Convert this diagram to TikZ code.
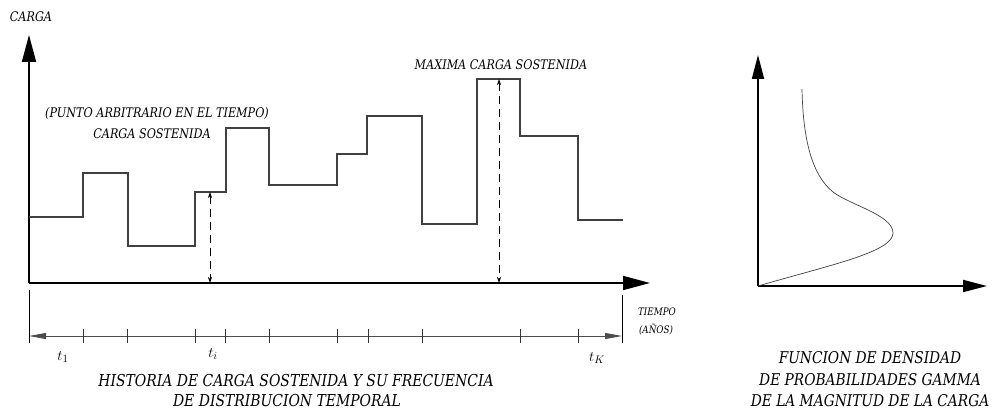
\documentclass[tikz,border=0pt]{standalone}
\usepackage{fontspec}
\setmainfont{DejaVu Serif}[FakeStretch=0.85]
\usetikzlibrary{arrows.meta}
\begin{document}
\begin{tikzpicture}[x=1pt,y=-1pt,
  lbltxt/.style={font=\fontsize{13.2}{15}\selectfont\itshape, inner sep=0pt},
  captxt/.style={font=\fontsize{16.4}{18}\selectfont\itshape, inner sep=0pt},
  rcaptxt/.style={font=\fontsize{16.2}{18}\selectfont\itshape, inner sep=0pt},
  smalltxt/.style={font=\fontsize{10.3}{11}\selectfont\itshape, inner sep=0pt},
  tlab/.style={font=\fontsize{15}{16}\selectfont, inner sep=0pt},
  axisline/.style={line width=1.8pt},
  bigarrow/.style={-{Triangle[length=27pt,width=14pt]}},
  medarrow/.style={-{Triangle[length=24pt,width=12pt]}},
  steps/.style={line width=1.1pt, draw=black!75},
  dimline/.style={line width=0.7pt, dash pattern=on 8pt off 5pt, {Stealth[length=6pt,width=4pt]}-{Stealth[length=6pt,width=4pt]}},
  extline/.style={line width=0.8pt},
  tline/.style={line width=0.8pt, draw=black!70, {Triangle[length=17pt,width=6pt]}-{Triangle[length=17pt,width=6pt]}},
  tickmark/.style={line width=0.8pt, draw=black!80}
]
\useasboundingbox (0,0) rectangle (992,411);

% ---------- left chart ----------
\coordinate (O) at (29,283);
\coordinate (Ytop) at (29,35);
\coordinate (Xend) at (650,283);
\draw[axisline,bigarrow] (O) -- (Ytop);
\draw[axisline,bigarrow] (O) -- (Xend);

\draw[steps] (29,217) -- (83,217) -- (83,173) -- (128,173) -- (128,246) -- (195,246)
  -- (195,192) -- (226,192) -- (226,128) -- (269,128) -- (269,185) -- (337,185)
  -- (337,154) -- (367,154) -- (367,116) -- (422,116) -- (422,224) -- (477,224)
  -- (477,79) -- (520,79) -- (520,136) -- (578,136) -- (578,220) -- (623,220);

\coordinate (Ai) at (210,192);
\coordinate (Bi) at (210,283);
\draw[dimline] (Ai) -- (Bi);
\coordinate (Am) at (499,79);
\coordinate (Bm) at (499,283);
\draw[dimline] (Am) -- (Bm);

\node[lbltxt] (carga) at (31,17) {CARGA};
\node[lbltxt] (punto) at (157,114) {(PUNTO ARBITRARIO EN EL TIEMPO)};
\node[lbltxt] (sost) at (152,134) {CARGA SOSTENIDA};
\node[lbltxt] (maxima) at (501,65) {MAXIMA CARGA SOSTENIDA};

% ---------- timeline ----------
\coordinate (E1a) at (29,290);
\coordinate (E1b) at (29,343);
\coordinate (E2a) at (622,295);
\coordinate (E2b) at (622,343);
\draw[extline] (E1a) -- (E1b);
\draw[extline] (E2a) -- (E2b);
\coordinate (T1) at (29,336);
\coordinate (T2) at (622,336);
\draw[tline] (T1) -- (T2);
\foreach \x in {83,127,195,225,269,337,368,422,520,578}
  \draw[tickmark] (\x,329) -- (\x,343);

\node[smalltxt] (tiempo) at (657,312) {TIEMPO};
\node[smalltxt] (anos) at (656,330) {(AÑOS)};
\node[tlab] (t1) at (63,357) {$t_1$};
\node[tlab] (ti) at (213,354) {$t_i$};
\node[tlab] (tk) at (597,358) {$t_K$};

\node[captxt] (hist1) at (296,381) {HISTORIA DE CARGA SOSTENIDA Y SU FRECUENCIA};
\node[captxt] (hist2) at (287,401) {DE DISTRIBUCION TEMPORAL};

% ---------- right chart ----------
\coordinate (O2) at (758,286);
\coordinate (Y2) at (758,55);
\coordinate (X2) at (987,286);
\draw[axisline,medarrow] (O2) -- (Y2);
\draw[axisline,medarrow] (O2) -- (X2);
\draw[line width=0.7pt, draw=black!75] (O2) .. controls (830,265) and (893,252) .. (893,233)
  .. controls (893,215) and (850,205) .. (833,192)
  .. controls (812,175) and (803,140) .. (802,89);

\node[rcaptxt] (f1) at (870,358) {FUNCION DE DENSIDAD};
\node[rcaptxt] (f2) at (870,380) {DE PROBABILIDADES GAMMA};
\node[rcaptxt] (f3) at (870,401) {DE LA MAGNITUD DE LA CARGA};
\end{tikzpicture}
\end{document}
